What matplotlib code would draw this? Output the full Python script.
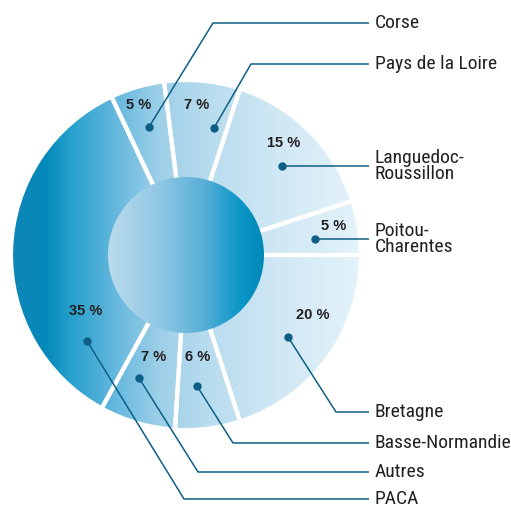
import numpy as np
import matplotlib.pyplot as plt
from matplotlib.colors import LinearSegmentedColormap
from matplotlib.patches import Circle

# données (sens horaire à partir de 3 h)
regions = ['Bretagne', 'Basse-Normandie', 'Autres', 'PACA', 'Corse',
           'Pays de la Loire', 'Languedoc-\nRoussillon', 'Poitou-\nCharentes']
parts = [20, 6, 7, 35, 5, 7, 15, 5]
pct_labels = [f'{p} %' for p in parts]

police = ['Roboto Condensed', 'Liberation Sans', 'DejaVu Sans']
police_pct = ['Liberation Sans', 'DejaVu Sans']

W, H = 511, 507
fig = plt.figure(figsize=(W / 100, H / 100), dpi=100)
ax = fig.add_axes([0, 0, 1, 1])

cx, cy = 186, 255
R, r_in = 175, 78

# anneau : dégradé horizontal foncé -> clair
cmap_anneau = LinearSegmentedColormap.from_list('anneau', [
    (0.0, '#0e86b6'), (0.1, '#0589bb'), (0.17, '#26a0cc'), (0.3, '#66b8de'),
    (0.42, '#9ccfe8'), (0.55, '#b6dbee'), (0.75, '#cfe7f4'), (1.0, '#e4f3fa')])
cmap_centre = LinearSegmentedColormap.from_list('centre', [
    (0.0, '#bcdcec'), (0.35, '#8cc6e3'), (0.6, '#5cb0d8'), (0.85, '#0a96c6'),
    (1.0, '#0088b8')])
degrade = np.linspace(0, 1, 256).reshape(1, -1)

# y inversé : counterclock=True donne le sens horaire à l'écran
# l'anneau déborde sous le disque central pour masquer l'arc intérieur blanc
wedges, _ = ax.pie(parts, startangle=0, counterclock=True, radius=R,
                   center=(cx, cy),
                   wedgeprops=dict(width=R - r_in + 6, facecolor='none',
                                   edgecolor='white', linewidth=3, zorder=2))
for w in wedges:
    im = ax.imshow(degrade, extent=[cx - R, cx + R, cy + R, cy - R],
                   cmap=cmap_anneau, aspect='auto', zorder=1)
    im.set_clip_path(w)

centre = Circle((cx, cy), r_in, facecolor='none', edgecolor='none', zorder=3)
ax.add_patch(centre)
im = ax.imshow(degrade, extent=[cx - r_in, cx + r_in, cy + r_in, cy - r_in],
               cmap=cmap_centre, aspect='auto', zorder=3)
im.set_clip_path(centre)

# étiquettes de pourcentage
pos_pct = [(313, 315), (198, 357), (154, 357), (86, 311),
           (139, 105), (197, 105), (284, 143), (334, 226)]
for txt, (x, y) in zip(pct_labels, pos_pct):
    ax.text(x, y, txt, ha='center', va='center', fontsize=10.5, fontweight='bold',
            color='#231f20', family=police_pct, zorder=5)

# repères et lignes de rappel
points = [(288, 337), (197, 386), (139, 378), (87, 341),
          (149, 127), (214, 128), (282, 166), (315, 239)]
coudes = [(336, 412), (233, 443), (198, 472), (184, 499),
          (213, 23), (251, 64), None, None]
x_fin = 369
bleu = '#0d5f87'
for nom, pt, cd in zip(regions, points, coudes):
    if cd is None:
        xs, ys = [pt[0], x_fin], [pt[1], pt[1]]
        y_txt = pt[1]
    else:
        xs, ys = [pt[0], cd[0], x_fin], [pt[1], cd[1], cd[1]]
        y_txt = cd[1]
    ax.plot(xs, ys, color=bleu, lw=1.1, zorder=4, solid_capstyle='butt')
    ax.plot(pt[0], pt[1], 'o', color=bleu, ms=5, zorder=6)
    ax.text(375, y_txt, nom, ha='left', va='center', fontsize=14,
            color='#231f20', family=police, linespacing=0.9)

ax.set_xlim(0, W)
ax.set_ylim(H, 0)
ax.set_aspect('auto')
ax.axis('off')

fig.savefig('out.png', dpi=100)
